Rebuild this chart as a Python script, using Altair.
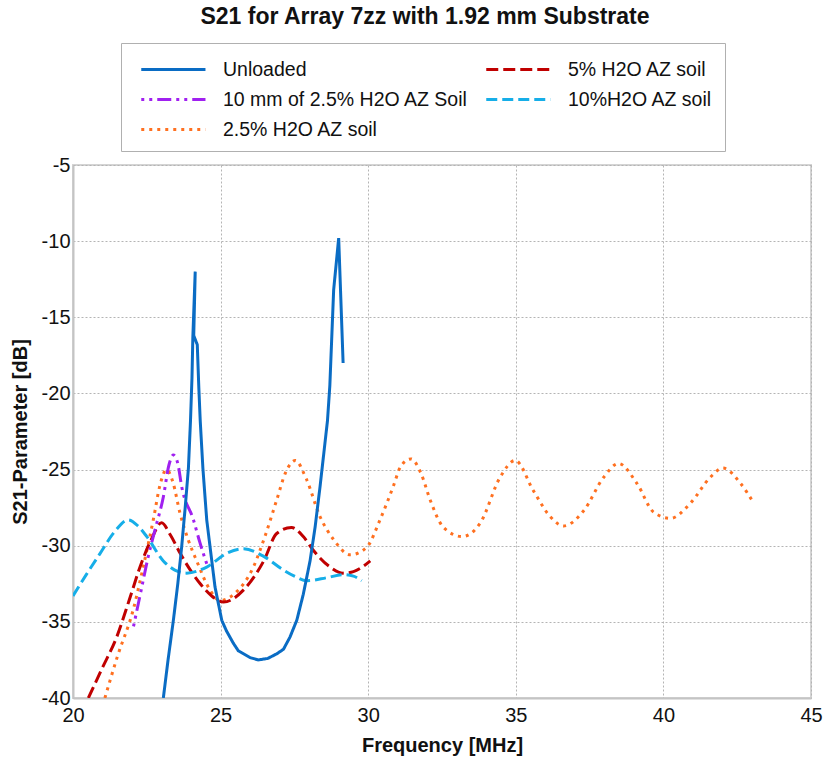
import altair as alt
import pandas as pd

FONT = "Liberation Sans"

series_names = ["Unloaded", "10 mm of 2.5% H2O AZ Soil", "2.5% H2O AZ soil",
                "5% H2O AZ soil", "10%H2O AZ soil"]
series_colors = ["#0a6cc4", "#a020f0", "#ff7020", "#c00000", "#16aee8"]
series_dashes = [[1, 0], [3, 5, 3, 5, 14, 5], [3, 5], [12, 5], [11, 5]]

unloaded_freq = [23.06, 23.22, 23.40, 23.55, 23.68, 23.80, 23.91, 23.98, 24.03, 24.06,
                 24.14, 24.09, 24.21, 24.26, 24.31, 24.40, 24.53, 24.81, 25.04, 25.20,
                 25.43, 25.60, 26.00, 26.28, 26.60, 26.90, 27.13, 27.35, 27.58, 27.80,
                 28.03, 28.20, 28.37, 28.62, 28.70, 28.83, 29.00, 29.15]
unloaded_s21 = [-40.0, -37.5, -34.9, -32.5, -30.1, -27.5, -24.9, -21.8, -19.0, -16.3,
                -12.0, -16.2, -16.8, -19.5, -21.8, -24.9, -28.3, -32.7, -34.9, -35.6,
                -36.4, -36.9, -37.35, -37.5, -37.4, -37.1, -36.8, -36.0, -34.9, -33.2,
                -31.0, -28.8, -26.1, -21.8, -19.5, -13.2, -9.8, -18.0]

soil5_freq = [20.52, 21.0, 21.48, 21.9, 22.27, 22.65, 23.0, 23.3, 23.63, 24.31, 24.7,
              25.1, 25.78, 26.46, 26.9, 27.4, 27.8, 28.14, 28.71, 29.15, 29.5, 29.8, 30.07]
soil5_s21 = [-40.0, -38.0, -36.0, -33.6, -31.4, -29.6, -28.5, -29.3, -30.5, -32.5, -33.3,
             -33.7, -32.9, -31.0, -29.2, -28.8, -29.4, -30.3, -31.4, -31.8, -31.7, -31.4, -31.0]

soil10mm_freq = [22.05, 22.3, 22.55, 22.8, 23.06, 23.25, 23.40, 23.55, 23.68, 24.08, 24.3, 24.55]
soil10mm_s21 = [-35.3, -33.0, -30.7, -28.8, -26.8, -24.7, -24.05, -24.6, -26.1, -28.3, -29.8, -31.3]

soil10_freq = [20.0, 20.45, 20.92, 21.4, 21.87, 22.2, 22.5, 23.06, 23.45, 23.85, 24.53,
               25.21, 25.78, 26.46, 27.13, 27.5, 27.92, 28.6, 29.16, 29.5, 29.78]
soil10_s21 = [-33.3, -31.9, -30.5, -29.1, -28.3, -28.7, -29.4, -31.0, -31.6, -31.8, -31.4,
              -30.5, -30.2, -30.7, -31.6, -32.0, -32.3, -32.1, -31.9, -32.0, -32.3]

soil25_freq = [21.08, 21.5, 22.04, 22.4, 22.72, 22.95, 23.17, 23.38, 23.63, 23.9, 24.19,
               24.64, 24.98, 25.5, 26.11, 26.5, 26.9, 27.2, 27.53, 27.9, 28.37, 28.83,
               29.39, 29.95, 30.4, 30.85, 31.1, 31.45, 31.8, 32.1, 32.55, 33.18, 33.8,
               34.47, 34.98, 35.6, 36.17, 36.62, 37.3, 37.98, 38.48, 39.1, 39.67, 40.24,
               40.92, 41.59, 42.02, 42.61, 43.06]
soil25_s21 = [-40.0, -37.3, -34.2, -31.2, -28.3, -26.0, -25.0, -25.8, -27.9, -29.6, -31.0,
              -32.9, -33.6, -33.1, -31.4, -29.4, -27.0, -25.2, -24.4, -25.6, -28.1, -29.6,
              -30.6, -30.1, -28.3, -26.1, -24.8, -24.3, -25.3, -27.0, -28.8, -29.4, -28.5,
              -25.5, -24.4, -26.4, -28.1, -28.7, -27.7, -25.5, -24.6, -25.9, -27.8, -28.2,
              -27.2, -25.5, -24.9, -25.9, -27.2]

x_ticks = [20, 25, 30, 35, 40, 45]
y_ticks = [-40, -35, -30, -25, -20, -15, -10, -5]


def frame(name, xs, ys):
    return pd.DataFrame({"series": name, "freq": xs, "s21": ys, "i": range(len(xs))})


df_unloaded = frame("Unloaded", unloaded_freq, unloaded_s21)
df_others = pd.concat([
    frame("2.5% H2O AZ soil", soil25_freq, soil25_s21),
    frame("5% H2O AZ soil", soil5_freq, soil5_s21),
    frame("10 mm of 2.5% H2O AZ Soil", soil10mm_freq, soil10mm_s21),
    frame("10%H2O AZ soil", soil10_freq, soil10_s21),
])

legend = alt.Legend(
    title=None, orient="none", legendX=48, legendY=-122, direction="vertical",
    columns=2, columnPadding=10, rowPadding=6, symbolType="M-0.48,0L4.46,0", symbolSize=676,
    symbolStrokeWidth=3, labelFont=FONT, labelFontSize=19.5, labelColor="#111111",
    labelLimit=400, labelOffset=61, fillColor="white", strokeColor="#b0b0b0",
    padding=12, cornerRadius=0,
)

x = alt.X("freq:Q", scale=alt.Scale(domain=[20, 45], nice=False),
          axis=alt.Axis(values=x_ticks, title="Frequency [MHz]", labelPadding=7,
                        labelFlush=False, labelOverlap=False,
                        titlePadding=10, labelFontSize=20, titleFontSize=20))
y = alt.Y("s21:Q", scale=alt.Scale(domain=[-40, -5], nice=False),
          axis=alt.Axis(values=y_ticks, title="S21-Parameter [dB]", labelPadding=3,
                        labelExpr="datum.value + ''", labelFlush=False, labelOverlap=False,
                        titlePadding=11, labelFontSize=20, titleFontSize=20))
color = alt.Color("series:N", scale=alt.Scale(domain=series_names, range=series_colors),
                  legend=legend)
dash = alt.StrokeDash("series:N", scale=alt.Scale(domain=series_names, range=series_dashes),
                      legend=legend)

others = alt.Chart(df_others).mark_line(strokeWidth=3, interpolate="monotone", clip=True).encode(
    x=x, y=y, color=color, strokeDash=dash, order="i:Q")
unloaded = alt.Chart(df_unloaded).mark_line(strokeWidth=3, interpolate="linear", clip=True).encode(
    x=x, y=y, color=color, strokeDash=dash, order="i:Q")

chart = alt.layer(others, unloaded).properties(
    width=738, height=533,
    background="white",
    autosize=alt.AutoSizeParams(type="none"),
    padding={"left": 73, "top": 165, "right": 14, "bottom": 63},
    title=alt.TitleParams("S21 for Array 7zz with 1.92 mm Substrate", font=FONT,
                          fontSize=23, fontWeight="bold", color="#111111",
                          anchor="middle", dx=-17, offset=14),
).configure_axis(
    labelFont=FONT, labelColor="#111111",
    titleFont=FONT, titleFontWeight="bold", titleColor="#111111",
    ticks=False, domain=True, domainColor="#c4c4c4", domainWidth=2,
    grid=True, gridColor="#b4b4b4", gridDash=[2, 2], gridWidth=1,
).configure_view(stroke="#d4d4d4", strokeWidth=2)

chart.save("out.html", embed_options={"renderer": "svg", "actions": False})
